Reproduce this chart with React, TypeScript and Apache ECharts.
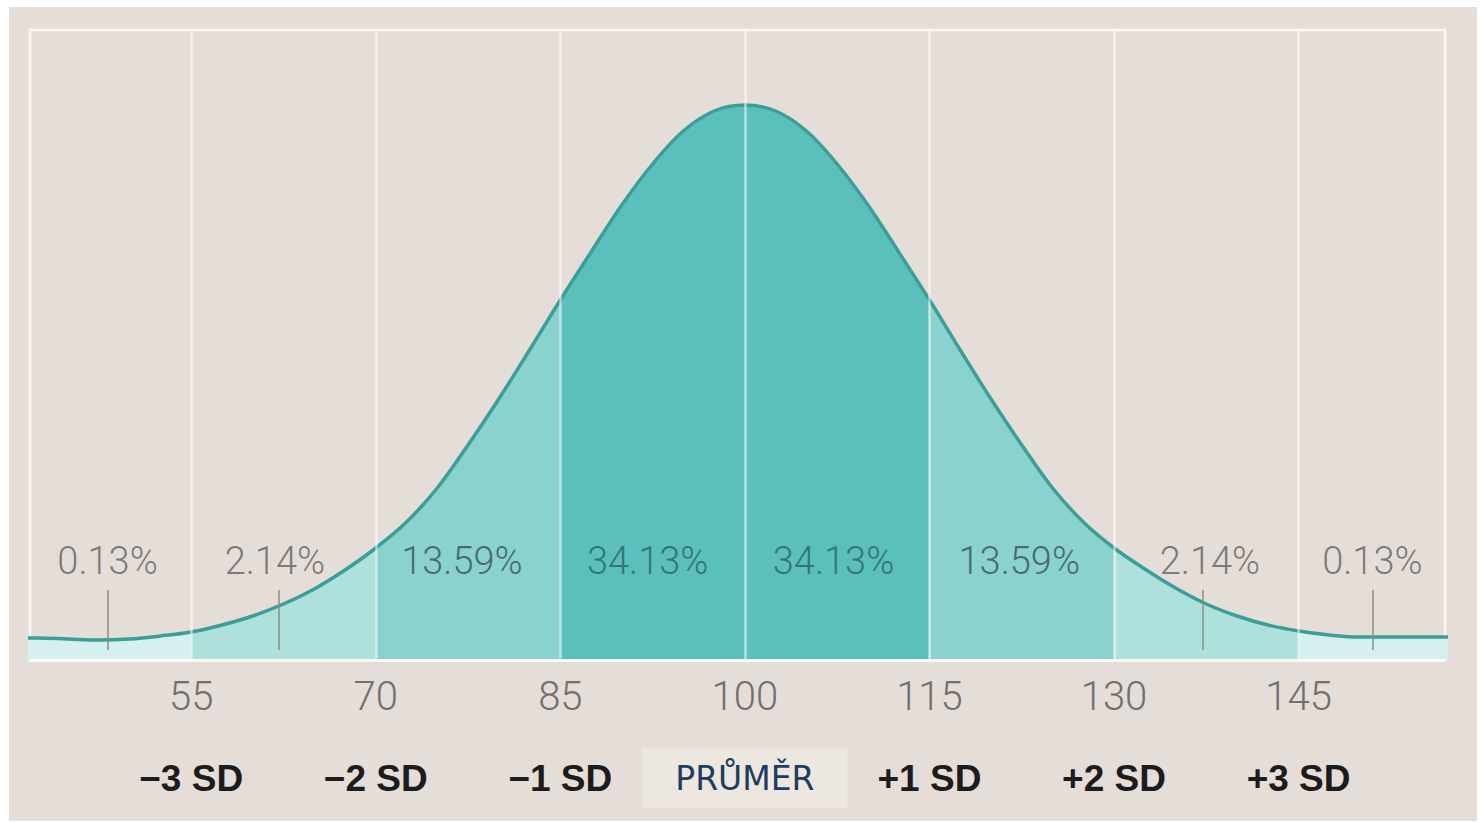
import React, { useEffect, useRef } from "react";
import * as echarts from "echarts";

// ---- data ----
const X_MIN = 41.9;
const X_MAX = 156.9;
const curveX = [40, 42.5, 45, 47.5, 50, 52.5, 55, 57.5, 60, 62.5, 65, 67.5, 70, 72.5, 75, 77.5, 80, 82.5, 85, 87.5, 90, 92.5, 95, 97.5, 100, 102.5, 105, 107.5, 110, 112.5, 115, 117.5, 120, 122.5, 125, 127.5, 130, 132.5, 135, 137.5, 140, 142.5, 145, 147.5, 150, 152.5, 155, 157.5];
const curveY = [22, 22, 21, 20, 21, 24, 28, 35, 44, 56, 71, 90, 112, 138, 172, 215, 261, 310, 360, 408, 455, 496, 529, 549, 555, 549, 529, 496, 455, 408, 360, 310, 261, 215, 172, 138, 112, 91, 72, 56, 44, 35, 29, 25, 23, 23, 23, 23];
const boundaries = [55, 70, 85, 100, 115, 130, 145];
const sdLabels = ["\u22123 SD", "\u22122 SD", "\u22121 SD", "PRŮMĚR", "+1 SD", "+2 SD", "+3 SD"];
const shareLabels = ["0.13%", "2.14%", "13.59%", "34.13%", "34.13%", "13.59%", "2.14%", "0.13%"];
const shareX = [48.2, 61.8, 77.0, 92.1, 107.2, 122.3, 137.8, 151.0];
const shareY = 99;
const tailTickX = [48.2, 62.1, 137.2, 151.0];
const tailTickFrom = 10;
const tailTickTo = 70;

// ---- styles ----
const BG = "#e5ddd7";
const C_OUT = "#d5f0ee";
const C_2 = "#aee0dc";
const C_1 = "#89d2cd";
const C_0 = "#5bbfbb";
const shareColor = (i: number) => {
  if (i === 3 || i === 4) return "#27635f";
  if (i === 2 || i === 5) return "#384f4e";
  return "#5f5f5f";
};

export default function App() {
  const ref = useRef<HTMLDivElement>(null);
  useEffect(() => {
    if (!ref.current) return;
    const chart = echarts.init(ref.current, undefined, { renderer: "svg" });
    const axisBase = {
      type: "value" as const,
      min: X_MIN,
      max: X_MAX,
      position: "bottom" as const,
      axisLine: { show: false },
      axisTick: { show: false },
      splitLine: { show: false },
    };
    chart.setOption({
      animation: false,
      backgroundColor: "#ffffff",
      graphic: [
        {
          type: "rect",
          z: -10,
          shape: { x: 9, y: 7, width: 1468, height: 814 },
          style: { fill: BG },
          silent: true,
        },
      ],
      grid: {
        left: 30,
        right: 35,
        top: 30,
        bottom: 162,
        show: true,
        backgroundColor: "transparent",
        borderColor: "rgba(255,255,255,0.75)",
        borderWidth: 2.5,
        outerBoundsMode: "none",
      },
      xAxis: [
        {
          ...axisBase,
          axisLabel: {
            customValues: boundaries,
            margin: 36,
            verticalAlign: "middle",
            fontFamily: "Roboto",
            fontWeight: 300,
            fontSize: 40,
            color: "#707070",
            formatter: (v: number) => String(v),
          },
        },
        {
          ...axisBase,
          axisLabel: {
            customValues: boundaries,
            margin: 118,
            verticalAlign: "middle",
            formatter: (v: number) => {
              const i = boundaries.indexOf(v);
              const t = sdLabels[i];
              return v === 100 ? `{m|${t}}` : `{s|${t}}`;
            },
            rich: {
              s: {
                fontFamily: "Liberation Sans, Arial, sans-serif",
                fontWeight: "bold",
                fontSize: 37,
                color: "#1c1c1c",
              },
              m: {
                fontFamily: "DejaVu Sans, sans-serif",
                fontSize: 33,
                color: "#1c3d60",
                backgroundColor: "#ece8df",
                padding: [13, 33, 13, 33],
              },
            },
          },
        },
      ],
      yAxis: { type: "value", min: 0, max: 630, show: false },
      visualMap: {
        type: "piecewise",
        show: false,
        dimension: 0,
        seriesIndex: 0,
        pieces: [
          { lt: 55, color: C_OUT },
          { gte: 55, lt: 70, color: C_2 },
          { gte: 70, lt: 85, color: C_1 },
          { gte: 85, lt: 115, color: C_0 },
          { gte: 115, lt: 130, color: C_1 },
          { gte: 130, lt: 145, color: C_2 },
          { gte: 145, color: C_OUT },
        ],
      },
      series: [
        {
          type: "line",
          xAxisIndex: 0,
          data: curveX.map((x, i) => [x, curveY[i]]),
          smooth: 0.35,
          showSymbol: false,
          lineStyle: { color: "#3a9f99", width: 3.5 },
          areaStyle: { opacity: 1 },
          z: 2,
          markLine: {
            silent: true,
            symbol: ["none", "none"],
            label: { show: false },
            data: [
              ...boundaries.map((v) => ({
                xAxis: v,
                lineStyle: { color: "rgba(255,255,255,0.55)", width: 2.5, type: "solid" },
              })),
              {
                yAxis: 0,
                lineStyle: { color: "rgba(255,255,255,0.85)", width: 3, type: "solid" },
              },
              ...tailTickX.map((v) => [
                {
                  coord: [v, tailTickFrom],
                  lineStyle: { color: "#8c8c8c", width: 1.5, type: "solid" },
                },
                { coord: [v, tailTickTo] },
              ]),
            ],
          },
        },
        {
          type: "scatter",
          xAxisIndex: 0,
          symbolSize: 0,
          z: 5,
          silent: true,
          data: shareX.map((x, i) => ({
            value: [x, shareY],
            name: shareLabels[i],
            label: { color: shareColor(i) },
          })),
          label: {
            show: true,
            position: "inside",
            formatter: (p: any) => p.name,
            fontFamily: "Roboto",
            fontWeight: 300,
            fontSize: 38,
          },
        },
      ],
    });
    return () => chart.dispose();
  }, []);
  return (
    <div
      ref={ref}
      style={{ position: "fixed", left: 0, top: 0, width: 1480, height: 822 }}
    />
  );
}
